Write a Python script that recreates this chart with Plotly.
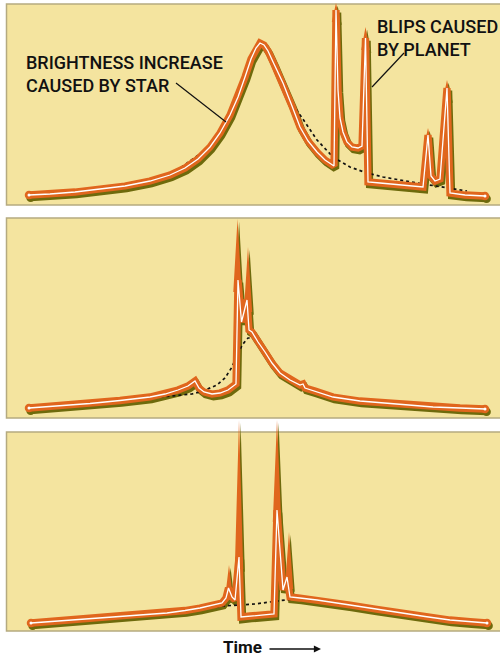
import plotly.graph_objects as go

W, H = 500, 657

# ---------------- data (time units, brightness units) ----------------
# Panel 1: planet blips on the falling side of the event
t1 = [29, 50, 75, 100, 125, 150, 170, 185, 198, 210, 220, 230, 238, 245, 251, 256, 260, 264, 268, 274, 283, 292,
      300, 308, 317, 325, 334,
      336, 338, 340, 343, 347, 352, 358, 362, 365.5, 368, 380, 400, 423, 428, 431, 435, 440, 447, 450, 465, 485]
b1 = [10, 11, 13, 16, 19, 24, 30, 37, 46, 58, 72, 90, 108, 128, 146, 157, 162, 160, 154, 141, 122, 99,
      78, 64, 53, 45, 39,
      195, 115, 87, 73, 63, 58, 57, 59, 167, 23, 22, 20, 18, 70, 29, 24, 26, 117, 12, 10, 9]
dash_t1 = [29, 100, 170, 210, 230, 245, 256, 260, 266, 272, 283, 290, 300, 317, 333, 350, 367, 383, 417, 450, 467]
dash_b1 = [10, 16, 30, 58, 90, 128, 157, 162, 157, 147, 123, 105, 90, 65, 48, 38, 32, 28, 22, 17, 14]
tip_t1 = [336, 365.5, 428, 447]
tip_b1 = [202, 178, 77, 125]
core_b1 = [195, 167, 70, 117]

# Panel 2: blips right at the peak
t2 = [29, 60, 90, 120, 150, 165, 178, 188, 195, 199, 204, 212, 220, 228, 234, 236, 238, 241.5, 247, 249, 252, 258,
      265, 272, 280, 290, 300, 303, 305, 315, 333, 360, 383, 410, 433, 460, 485]
b2 = [10, 12, 14.5, 17.5, 21, 24, 28, 32, 37, 30, 26, 24, 25, 28, 32, 34, 138, 96, 118, 88, 86, 76,
      66, 55, 45, 38, 33, 34, 30, 27, 21, 17, 15, 13, 11, 10, 9]
dash_t2 = [29, 100, 150, 180, 192, 203, 217, 225, 232, 238, 243, 248, 253, 258, 265, 280, 300, 320, 360, 433, 485]
dash_b2 = [9, 15, 20, 23, 24, 27, 33, 40, 51, 65, 74, 80, 80, 76, 66, 45, 32, 25, 17, 11, 9]
tip_t2 = [237.5, 248]
tip_b2 = [199, 171]
core_b2 = [138, 118]

# Panel 3: blips near the peak, with a dip between them
t3 = [31, 65, 100, 135, 167, 185, 200, 222, 226, 228.5, 232, 235, 239, 241, 250, 262, 274, 277, 283, 287, 290,
      300, 317, 350, 375, 400, 425, 450, 470, 487]
b3 = [8, 10.5, 13, 15.5, 18, 20.5, 23, 28, 33, 43, 34, 31, 74, 14, 15, 16, 17, 121, 41, 54, 34,
      33, 31, 26, 22, 18, 14.5, 11, 9.3, 8]
dash_t3 = [31, 100, 167, 200, 222, 240, 255, 270, 285, 300, 320, 350, 400, 450, 487]
dash_b3 = [7, 12, 17, 22, 25, 26, 27, 29, 31, 32, 30, 25, 18, 11, 8]
tip_t3 = [229, 239, 277, 289]
tip_b3 = [66, 211, 211, 99]
core_b3 = [43, 74, 121, 54]

panels = [
    dict(t=t1, b=b1, dt=dash_t1, db=dash_b1, tt=tip_t1, tb=tip_b1, cb=core_b1),
    dict(t=t2, b=b2, dt=dash_t2, db=dash_b2, tt=tip_t2, tb=tip_b2, cb=core_b2),
    dict(t=t3, b=b3, dt=dash_t3, db=dash_b3, tt=tip_t3, tb=tip_b3, cb=core_b3),
]

# ---------------- styling / layout ----------------
BG = "#f4e49f"
BORDER = "#b5aa80"
ORANGE = "#e0661d"
OLIVE = "#6e6a0c"
LW = 7.3
SDX, SDY = 1.6, 2.7      # shadow offset
HW = 4.2                 # half-width of needle tip
# pixel rects of panels (top, bottom) and axis domains (top, bottom)
rects = [(4, 205), (218, 418), (432, 631)]
doms = [(0, 208), (208, 419), (419, 635)]

fig = go.Figure()


def needles(tt, tb, cb, dx=0.0, dy=0.0):
    xs, ys = [], []
    for x, tip, core in zip(tt, tb, cb):
        base = core - 12
        xs += [x - HW + dx, x + dx, x + HW + dx, None]
        ys += [base - dy, tip - dy, base - dy, None]
    return xs, ys


for k, p in enumerate(panels):
    xa = "x" if k == 0 else f"x{k+1}"
    ya = "y" if k == 0 else f"y{k+1}"
    common = dict(xaxis=xa, yaxis=ya, hoverinfo="skip", showlegend=False)
    ends_t = [p["t"][0], p["t"][-1]]
    ends_b = [p["b"][0], p["b"][-1]]

    # shadow
    fig.add_trace(go.Scatter(x=[v + SDX for v in p["t"]], y=[v - SDY for v in p["b"]], mode="lines",
                             line=dict(color=OLIVE, width=LW), **common))
    nx, ny = needles(p["tt"], p["tb"], p["cb"], SDX, SDY)
    fig.add_trace(go.Scatter(x=nx, y=ny, mode="lines", fill="toself", fillcolor=OLIVE,
                             line=dict(width=0, color=OLIVE), **common))
    fig.add_trace(go.Scatter(x=[v + SDX for v in ends_t], y=[v - SDY for v in ends_b], mode="markers",
                             marker=dict(color=OLIVE, size=LW + 1.2), **common))
    # underlying (star only) curve
    fig.add_trace(go.Scatter(x=p["dt"], y=p["db"], mode="lines",
                             line=dict(color="#111111", width=1.7, dash="3px,3px"), **common))
    # orange stroke
    nx, ny = needles(p["tt"], p["tb"], p["cb"])
    fig.add_trace(go.Scatter(x=nx, y=ny, mode="lines", fill="toself", fillcolor=ORANGE,
                             line=dict(width=0, color=ORANGE), **common))
    fig.add_trace(go.Scatter(x=p["t"], y=p["b"], mode="lines",
                             line=dict(color=ORANGE, width=LW), **common))
    fig.add_trace(go.Scatter(x=ends_t, y=ends_b, mode="markers",
                             marker=dict(color=ORANGE, size=LW + 1.2), **common))
    # white core
    fig.add_trace(go.Scatter(x=p["t"], y=p["b"], mode="lines",
                             line=dict(color="white", width=1.3), **common))
    fig.add_trace(go.Scatter(x=ends_t, y=ends_b, mode="markers",
                             marker=dict(color="white", size=3), **common))

layout = dict(
    width=W, height=H, margin=dict(l=0, r=0, t=0, b=0),
    paper_bgcolor="white", plot_bgcolor="rgba(0,0,0,0)",
    showlegend=False,
)
shapes = []
for k in range(3):
    T, B = rects[k]
    dt, dbm = doms[k]
    sx = "" if k == 0 else str(k + 1)
    layout[f"xaxis{sx}"] = dict(domain=[0, 1], range=[0, W], visible=False, fixedrange=True,
                               anchor=f"y{sx}")
    layout[f"yaxis{sx}"] = dict(domain=[1 - dbm / H, 1 - dt / H], range=[B - dbm, B - dt],
                               visible=False, fixedrange=True, anchor=f"x{sx}")
    shapes.append(dict(type="rect", xref="paper", yref="paper", x0=6.5 / W, x1=1.02,
                       y0=1 - B / H, y1=1 - T / H, fillcolor=BG,
                       line=dict(color=BORDER, width=1.5), layer="below"))

# leader lines (panel 1 data coords)
shapes.append(dict(type="line", xref="x", yref="y", x0=176, y0=122, x1=226, y1=83,
                   line=dict(color="#111111", width=1.2)))
shapes.append(dict(type="line", xref="x", yref="y", x0=404, y0=152, x1=372, y1=118,
                   line=dict(color="#111111", width=1.2)))
layout["shapes"] = shapes

FONT = "Roboto, 'DejaVu Sans', sans-serif"
layout["annotations"] = [
    dict(text="BRIGHTNESS INCREASE<br>CAUSED BY STAR", xref="paper", yref="paper",
         x=24 / W, y=1 - 50 / H, xanchor="left", yanchor="top", align="left", showarrow=False,
         font=dict(family=FONT, size=18, color="#111111", weight=500)),
    dict(text="BLIPS CAUSED<br>BY PLANET", xref="paper", yref="paper",
         x=375 / W, y=1 - 14 / H, xanchor="left", yanchor="top", align="left", showarrow=False,
         font=dict(family=FONT, size=18, color="#111111", weight=500)),
    dict(text="<b>Time</b>", xref="paper", yref="paper", x=242 / W, y=1 - 647 / H,
         xanchor="center", yanchor="middle", showarrow=False,
         font=dict(family=FONT, size=17, color="#111111")),
    dict(text="", xref="paper", yref="paper", x=321 / W, y=1 - 649 / H, ax=-53, ay=0,
         axref="pixel", ayref="pixel", showarrow=True, arrowhead=2, arrowsize=1.1,
         arrowwidth=1.3, arrowcolor="#111111"),
]

fig.update_layout(**layout)
fig.write_html("out.html", config={"displayModeBar": False, "staticPlot": True},
               post_script="document.body.style.margin='0px';")
